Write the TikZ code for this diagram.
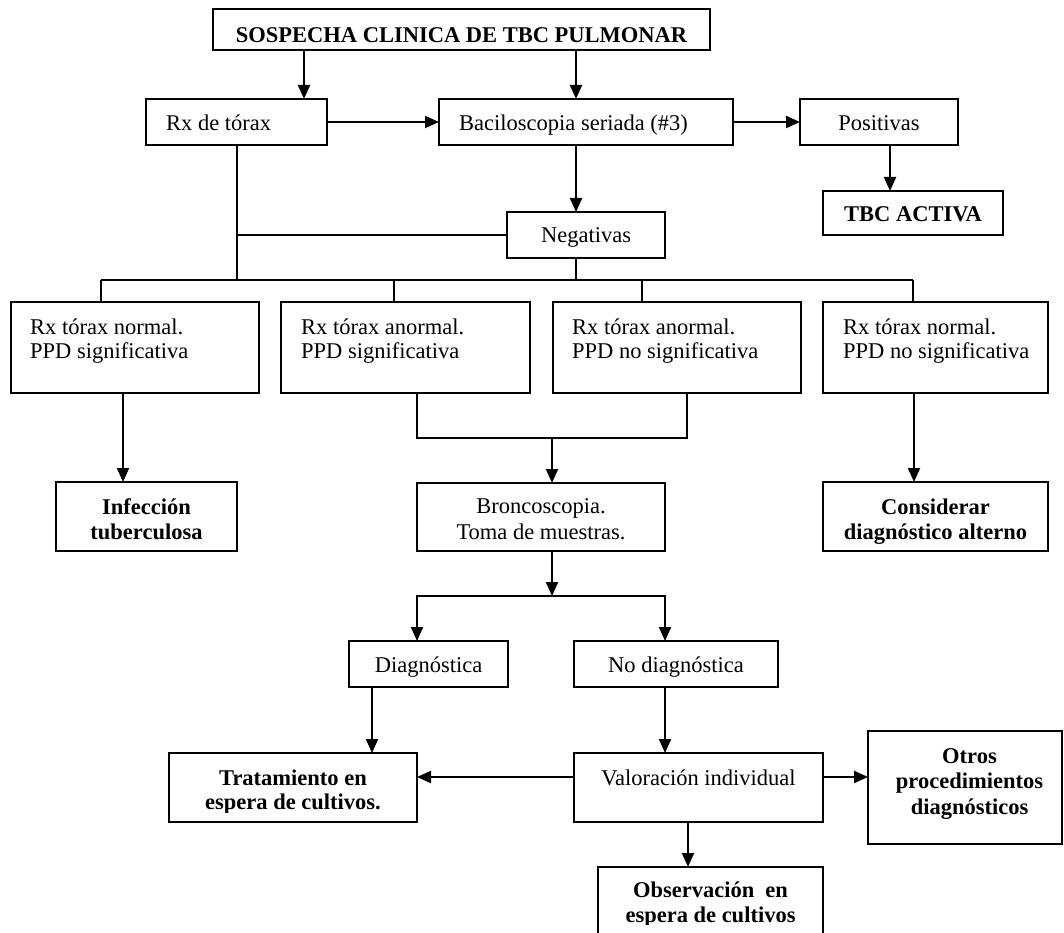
\documentclass[tikz,border=0pt]{standalone}
\usepackage{fontspec}
\setmainfont{Liberation Serif}
\usetikzlibrary{arrows.meta}
\newcommand\mkbox[5]{\node[bx, anchor=north west, minimum width={#4-#2}, minimum height={#5-#3}] (#1) at (#2,#3) {};}
\begin{document}
\begin{tikzpicture}[x=1pt, y=-1pt,
  bx/.style={draw, line width=2pt, inner sep=0pt, outer sep=0pt},
  ln/.style={line width=2pt},
  arr/.style={ln, -{Triangle[length=14pt, width=12pt]}},
  txt/.style={inner sep=0pt, font=\fontsize{22.5}{24}\selectfont},
  btxt/.style={inner sep=0pt, font=\fontsize{22.5}{24.5}\selectfont\bfseries},
  ltxt/.style={inner sep=0pt, anchor=base west, align=left, font=\fontsize{22.5}{23.3}\selectfont}]
\path[use as bounding box] (0,0) rectangle (1064,933);
\clip (0,0) rectangle (1064,933);

% boxes
\mkbox{top}{213}{9}{710}{50}
\mkbox{rx}{146}{99}{327}{145}
\mkbox{bac}{439}{99}{733}{145}
\mkbox{pos}{800}{99}{958}{145}
\mkbox{tbc}{823}{191}{1003}{235}
\mkbox{neg}{507}{212}{665}{258}
\mkbox{b1}{11}{302}{259}{393}
\mkbox{b2}{281}{302}{530}{393}
\mkbox{b3}{553}{302}{801}{393}
\mkbox{b4}{823}{302}{1048}{393}
\mkbox{inf}{56}{482}{237}{551}
\mkbox{cons}{823}{482}{1048}{551}
\mkbox{bron}{417}{483}{665}{551}
\mkbox{diag}{349}{641}{508}{687}
\mkbox{nodiag}{574}{641}{778}{687}
\mkbox{trat}{169}{753}{417}{822}
\mkbox{val}{574}{753}{823}{822}
\mkbox{otros}{868}{731}{1062}{844}
\mkbox{obs}{598}{867}{823}{950}

% texts (multi-line nodes are anchored at the baseline of their last line)
\node[btxt, anchor=base] (top-t) at (461.5,43) {SOSPECHA CLINICA DE TBC PULMONAR};
\node[txt, anchor=base west] (rx-t) at (166,131) {Rx de tórax};
\node[txt, anchor=base west] (bac-t) at (459,131) {Baciloscopia seriada (\#3)};
\node[txt, anchor=base] (pos-t) at (879,131) {Positivas};
\node[btxt, anchor=base] (tbc-t) at (913,221.5) {TBC ACTIVA};
\node[txt, anchor=base] (neg-t) at (586,243) {Negativas};
\node[ltxt] (b1-t) at (30,358) {Rx tórax normal.\\PPD significativa};
\node[ltxt] (b2-t) at (301,358) {Rx tórax anormal.\\PPD significativa};
\node[ltxt] (b3-t) at (572,358) {Rx tórax anormal.\\PPD no significativa};
\node[ltxt] (b4-t) at (843,358) {Rx tórax normal.\\PPD no significativa};
\node[btxt, anchor=base, align=center] (inf-t) at (146.5,539) {Infección\\tuberculosa};
\node[btxt, anchor=base, align=center] (cons-t) at (935.5,539) {Considerar\\diagnóstico alterno};
\node[txt, anchor=base, align=center, font=\fontsize{22.5}{26}\selectfont] (bron-t) at (541,539) {Broncoscopia.\\Toma de muestras.};
\node[txt, anchor=base] (diag-t) at (428.5,672) {Diagnóstica};
\node[txt, anchor=base] (nodiag-t) at (676,672) {No diagnóstica};
\begin{scope}
\clip (169,753) rectangle (417,812);
\node[btxt, anchor=base, align=center] (trat-t) at (293,809.5) {Tratamiento en\\espera de cultivos.};
\end{scope}
\node[txt, anchor=base] (val-t) at (698.5,785) {Valoración individual};
\node[btxt, anchor=base, align=center, font=\fontsize{22.5}{25.5}\selectfont\bfseries] (otros-t) at (969.5,814) {Otros\\procedimientos\\diagnósticos};
\begin{scope}
\clip (598,867) rectangle (823,924);
\node[btxt, anchor=base, align=center] (obs-t) at (710.5,922) {Observación~ en\\espera de cultivos};
\end{scope}

% junction coordinates
\coordinate (jneg) at (576,280);
\coordinate (jrx) at (237,280);
\coordinate (busL) at (101,280);
\coordinate (busR) at (913,280);
\coordinate (jm) at (552,438);
\coordinate (js) at (552,596);

% connectors
\draw[arr] (top.south -| 304,0) -- (rx.north -| 304,0);
\draw[arr] (top.south -| 576,0) -- (bac.north -| 576,0);
\draw[arr] (rx.east) -- (rx.east -| bac.west);
\draw[arr] (bac.east) -- (bac.east -| pos.west);
\draw[arr] (pos.south -| 890,0) -- (tbc.north -| 890,0);
\draw[arr] (bac.south -| jneg) -- (neg.north -| jneg);
\draw[ln] (rx.south -| jrx) -- (jrx);
\draw[ln] (neg.west) -- (neg.west -| jrx);
\draw[ln] (neg.south -| jneg) -- (jneg);
\draw[ln] (busL) -- (busR);
\draw[ln] (busL) -- (b1.north -| busL);
\draw[ln] (b2.north -| 394,0) -- (b2.north |- busL -| 394,0);
\draw[ln] (b3.north -| 642,0) -- (b3.north |- busL -| 642,0);
\draw[ln] (busR) -- (b4.north -| busR);
\draw[arr] (b1.south -| 123,0) -- (inf.north -| 123,0);
\draw[ln] (b2.south -| 417,0) |- (jm) -| (b3.south -| 687,0);
\draw[arr] (jm) -- (bron.north -| jm);
\draw[arr] (b4.south -| 914,0) -- (cons.north -| 914,0);
\draw[arr] (bron.south -| js) -- (js);
\draw[arr] (js) -| (diag.north -| 417,0);
\draw[arr] (js) -| (nodiag.north -| 665,0);
\draw[arr] (diag.south -| 372,0) -- (trat.north -| 372,0);
\draw[arr] (nodiag.south -| 665,0) -- (val.north -| 665,0);
\draw[arr] (val.west |- 0,777) -- (trat.east |- 0,777);
\draw[arr] (val.east |- 0,777) -- (otros.west |- 0,777);
\draw[arr] (val.south -| 688,0) -- (obs.north -| 688,0);
\end{tikzpicture}
\end{document}
